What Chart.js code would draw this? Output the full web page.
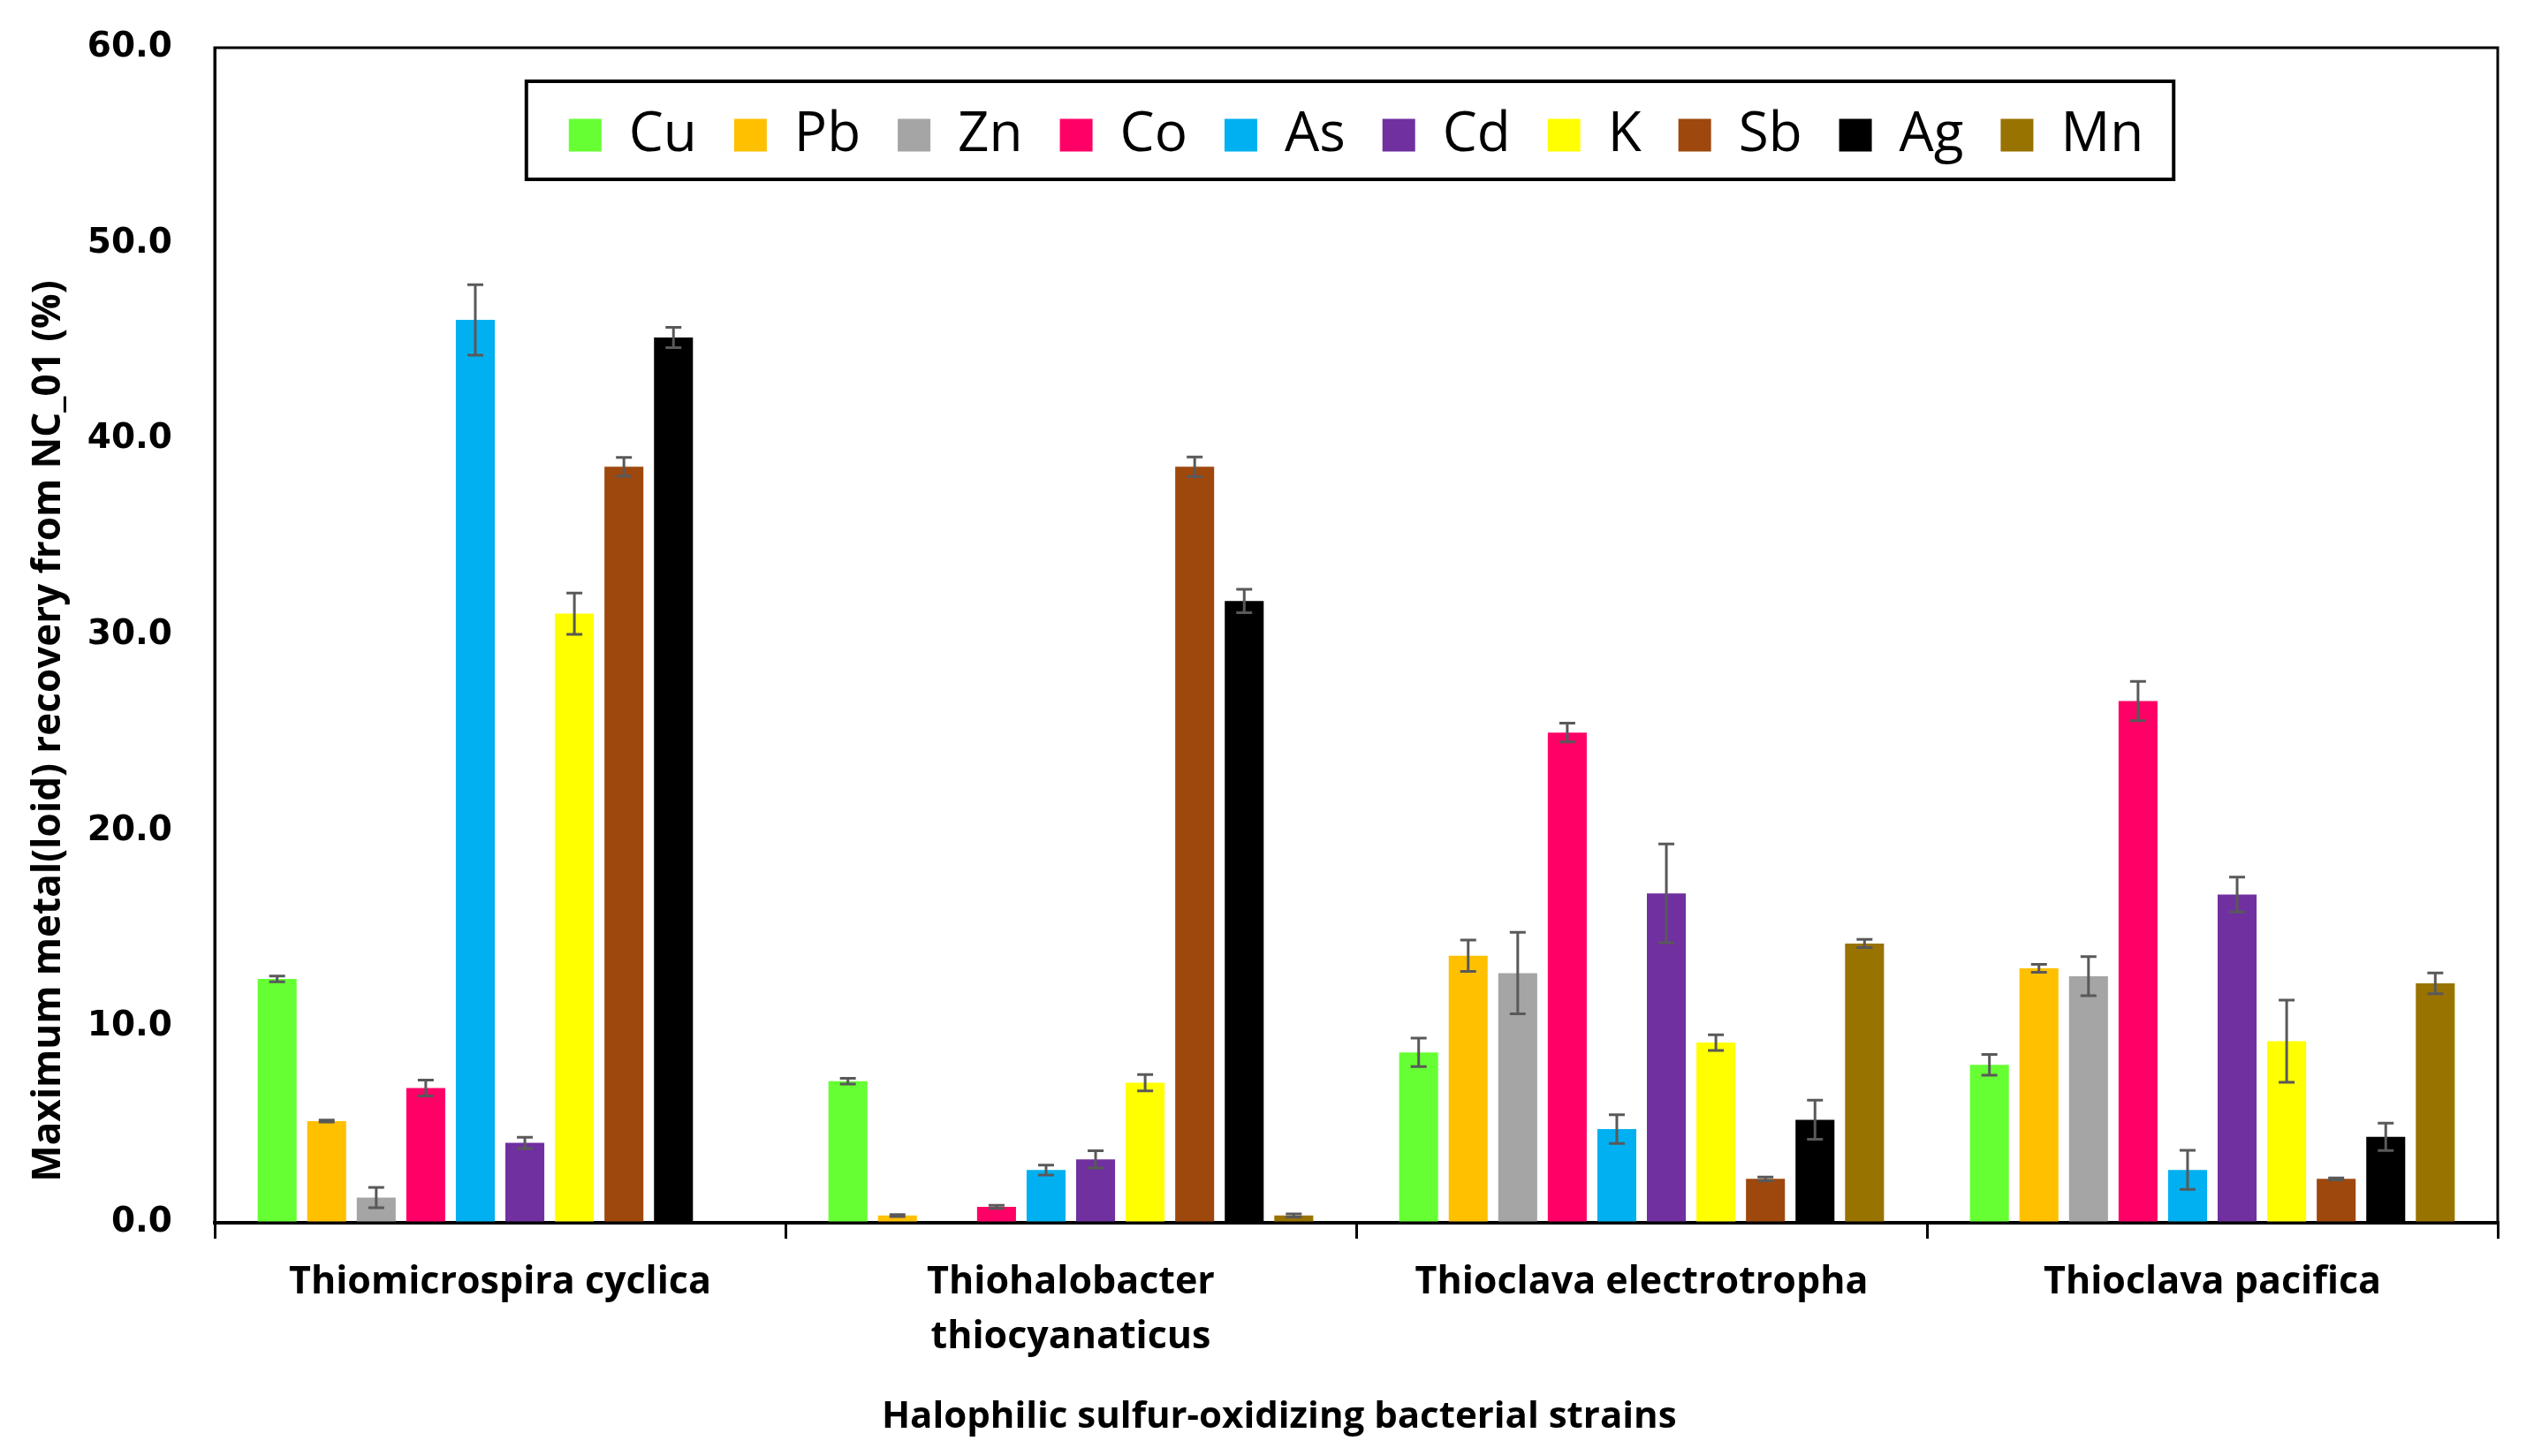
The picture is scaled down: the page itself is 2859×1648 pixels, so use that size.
<!DOCTYPE html>
<html>
<head>
<meta charset="utf-8">
<script src="https://cdn.jsdelivr.net/npm/chart.js@4.4.1/dist/chart.umd.min.js"></script>
<style>
  html, body { margin: 0; padding: 0; background: #ffffff; }
  #wrap { width: 2859px; height: 1648px; position: relative; }
</style>
</head>
<body>
<div id="wrap"><canvas id="c"></canvas></div>
<script>
// ---- data ----
const strains = ['Thiomicrospira cyclica', ['Thiohalobacter', 'thiocyanaticus'], 'Thioclava electrotropha', 'Thioclava pacifica'];
const metals = ['Cu', 'Pb', 'Zn', 'Co', 'As', 'Cd', 'K', 'Sb', 'Ag', 'Mn'];
const metalColors = ['#66FF33', '#FFC000', '#A5A5A5', '#FF0066', '#00B0F0', '#7030A0', '#FFFF00', '#9E480E', '#000000', '#997300'];

const cuVals = [12.45, 7.23, 8.7, 8.06];
const pbVals = [5.19, 0.37, 13.64, 12.99];
const znVals = [1.29, 0.05, 12.75, 12.59];
const coVals = [6.88, 0.81, 25.03, 26.64];
const asVals = [46.1, 2.69, 4.78, 2.7];
const cdVals = [4.08, 3.24, 16.82, 16.76];
const kVals  = [31.1, 7.15, 9.2, 9.27];
const sbVals = [38.6, 38.6, 2.24, 2.24];
const agVals = [45.2, 31.75, 5.26, 4.39];
const mnVals = [0.05, 0.37, 14.26, 12.23];

const cuErr = [0.15, 0.15, 0.73, 0.53];
const pbErr = [0.05, 0.05, 0.8, 0.2];
const znErr = [0.52, 0.0, 2.08, 1.0];
const coErr = [0.41, 0.08, 0.48, 1.0];
const asErr = [1.8, 0.25, 0.73, 1.0];
const cdErr = [0.29, 0.44, 2.52, 0.89];
const kErr  = [1.05, 0.42, 0.4, 2.1];
const sbErr = [0.48, 0.5, 0.1, 0.05];
const agErr = [0.52, 0.6, 1.0, 0.7];
const mnErr = [0.0, 0.08, 0.21, 0.53];

const yTickValues = [0, 10, 20, 30, 40, 50, 60];
const yTitle = 'Maximum metal(loid) recovery from NC_01 (%)';
const xTitle = 'Halophilic sulfur-oxidizing bacterial strains';

const seriesValues = [cuVals, pbVals, znVals, coVals, asVals, cdVals, kVals, sbVals, agVals, mnVals];
const seriesErrors = [cuErr, pbErr, znErr, coErr, asErr, cdErr, kErr, sbErr, agErr, mnErr];

// ---- plugins ----
const errorBars = {
  id: 'errorBars',
  afterDatasetsDraw(chart) {
    const ctx = chart.ctx;
    const y = chart.scales.y;
    ctx.save();
    ctx.strokeStyle = '#595959';
    ctx.lineWidth = 3;
    chart.data.datasets.forEach((ds, i) => {
      const meta = chart.getDatasetMeta(i);
      meta.data.forEach((bar, j) => {
        const e = ds.errors[j];
        if (!e) return;
        const v = ds.data[j];
        const yt = y.getPixelForValue(v + e);
        const yb = y.getPixelForValue(Math.max(0, v - e));
        const x = bar.x;
        ctx.beginPath();
        ctx.moveTo(x, yt); ctx.lineTo(x, yb);
        ctx.moveTo(x - 9, yt); ctx.lineTo(x + 9, yt);
        ctx.moveTo(x - 9, yb); ctx.lineTo(x + 9, yb);
        ctx.stroke();
      });
    });
    ctx.restore();
  }
};

const legendPlacer = {
  id: 'legendPlacer',
  beforeLayout(chart) {
    const lg = chart.legend;
    if (lg && !lg._wrapped) {
      const origFit = lg.fit.bind(lg);
      lg.fit = function () { origFit(); this._realH = this.height; this.height = 0; };
      lg._wrapped = true;
    }
  },
  afterLayout(chart) {
    const lg = chart.legend;
    const ca = chart.chartArea;
    if (!lg) return;
    lg.left = ca.left; lg.right = ca.right; lg.width = ca.right - ca.left;
    lg.top = 80; lg.bottom = 80 + 200; lg.height = 200;
  },
  afterDraw(chart) {
    const ctx = chart.ctx;
    const ca = chart.chartArea;
    ctx.save();
    // plot frame
    ctx.strokeStyle = '#000';
    ctx.lineWidth = 3;
    ctx.strokeRect(ca.left, ca.top, ca.right - ca.left, ca.bottom - ca.top);
    // legend frame
    const lg = chart.legend;
    if (lg && lg.lineWidths) {
      const pad = lg.options.labels.padding;
      const lw = lg.lineWidths[0];
      const startX = (lg.left + pad + lg.right - lw) / 2;
      const endX = startX + lw - pad;
      ctx.lineWidth = 4;
      ctx.strokeRect(startX - 48, 92, (endX + 34) - (startX - 48), 111);
    }
    ctx.restore();
  }
};

const datasets = metals.map((m, i) => ({
  label: m,
  data: seriesValues[i],
  errors: seriesErrors[i],
  backgroundColor: metalColors[i],
  borderWidth: 0,
  categoryPercentage: 0.868,
  barPercentage: 0.786
}));

const pad = (s, n) => s + '\u00a0'.repeat(n);

Chart.defaults.devicePixelRatio = 1;
new Chart(document.getElementById('c'), {
  type: 'bar',
  data: { labels: strains, datasets },
  plugins: [errorBars, legendPlacer],
  options: {
    responsive: true,
    maintainAspectRatio: false,
    animation: false,
    layout: { padding: { top: 54, right: 32, left: 0, bottom: 0 } },
    plugins: {
      tooltip: { enabled: false },
      legend: {
        display: true,
        position: 'top',
        align: 'center',
        labels: {
          boxWidth: 37,
          boxHeight: 37,
          padding: 42,
          color: '#000',
          font: { family: 'Open Sans', size: 62, weight: 'normal' }
        }
      }
    },
    scales: {
      x: {
        type: 'category',
        offset: true,
        afterFit: (s) => { s.height = 264; },
        grid: { display: true, offset: true, drawOnChartArea: false, drawTicks: true, tickLength: 18, color: '#000', lineWidth: 3 },
        border: { display: true, color: '#000', width: 4 },
        ticks: {
          color: '#000',
          padding: 19,
          maxRotation: 0,
          autoSkip: false,
          font: { family: 'Open Sans', size: 43, weight: 'bold', lineHeight: 1.44 }
        },
        title: {
          display: true,
          text: pad(xTitle, 16),
          color: '#000',
          padding: { top: 0, bottom: 19 },
          font: { family: 'Open Sans', size: 42, weight: 'bold', lineHeight: 1.2 }
        }
      },
      y: {
        min: 0,
        max: 60,
        afterFit: (s) => { s.width = 243; },
        afterBuildTicks: (s) => { s.ticks = yTickValues.map(v => ({ value: v })); },
        grid: { display: true, drawOnChartArea: false, drawTicks: true, tickLength: 45, color: 'rgba(0,0,0,0)' },
        border: { display: true, color: '#000', width: 3 },
        ticks: {
          color: '#000',
          padding: 3,
          font: { family: 'DejaVu Sans', size: 39, weight: 'bold' },
          callback: (v) => Number(v).toFixed(1)
        },
        title: {
          display: true,
          text: pad(yTitle, 19),
          color: '#000',
          padding: { top: 29, bottom: 0 },
          font: { family: 'Open Sans', size: 44, weight: 'bold', lineHeight: 1.2 }
        }
      }
    }
  }
});
</script>
</body>
</html>
